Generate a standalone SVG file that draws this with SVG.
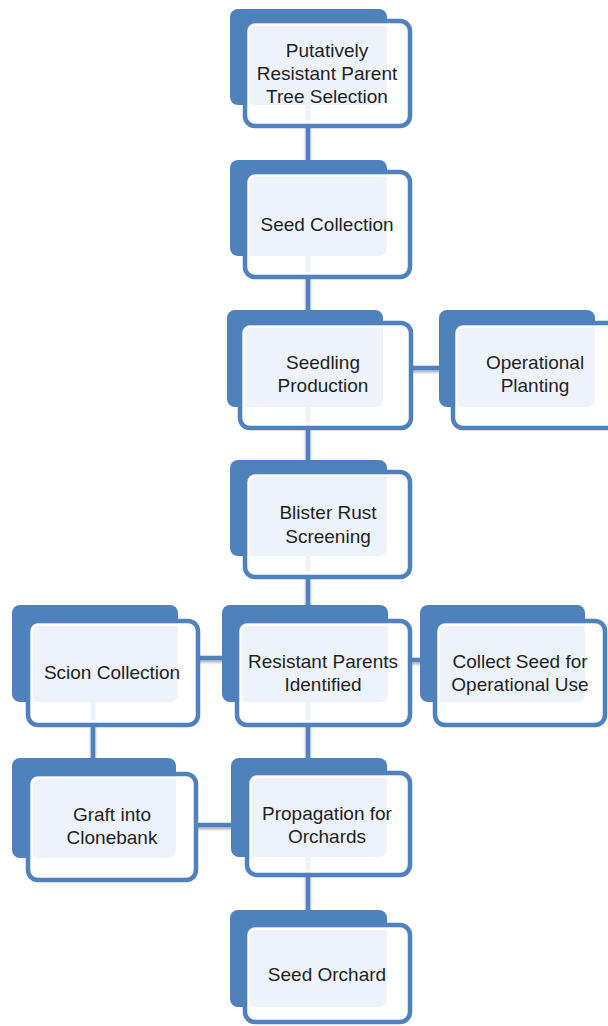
<svg xmlns="http://www.w3.org/2000/svg" width="608" height="1026" viewBox="0 0 608 1026">
<defs>
<filter id="sh" x="-20%" y="-50%" width="140%" height="200%">
<feGaussianBlur in="SourceAlpha" stdDeviation="1.5"/>
<feOffset dx="0" dy="2" result="b"/>
<feComponentTransfer><feFuncA type="linear" slope="0.35"/></feComponentTransfer>
<feMerge><feMergeNode/><feMergeNode in="SourceGraphic"/></feMerge>
</filter>
</defs>
<style>
.back{fill:#4f81bd;}
.front{fill:#ffffff;fill-opacity:0.9;stroke:#4f81bd;stroke-width:4.5;}
.inner{fill:none;stroke:#ffffff;stroke-width:2;stroke-opacity:0.9;}
.c{stroke:#4f81bd;stroke-width:4.5;fill:none;}
text{font-family:"Liberation Sans",Arial,sans-serif;font-size:19px;fill:#1f1f1f;text-anchor:middle;}
</style>
<rect width="608" height="1026" fill="#ffffff"/>
<g id="connectors" filter="url(#sh)">
<line class="c" x1="308" y1="100" x2="308" y2="172"/>
<line class="c" x1="308" y1="250" x2="308" y2="323"/>
<line class="c" x1="308" y1="400" x2="308" y2="472"/>
<line class="c" x1="308" y1="550" x2="308" y2="621"/>
<line class="c" x1="411" y1="368" x2="455" y2="368"/>
<line class="c" x1="198" y1="658" x2="239" y2="658"/>
<line class="c" x1="410" y1="660" x2="437" y2="660"/>
<line class="c" x1="93" y1="700" x2="93" y2="774"/>
<line class="c" x1="308" y1="700" x2="308" y2="773"/>
<line class="c" x1="196" y1="825" x2="249" y2="825"/>
<line class="c" x1="308" y1="850" x2="308" y2="925"/>
</g>
<g id="n1">
<rect class="back" x="230" y="9" width="157" height="96" rx="8"/>
<rect class="front" x="245" y="21" width="165" height="105" rx="10"/>
<rect class="inner" x="249" y="25" width="157" height="97" rx="7"/>
<text x="327" y="57">Putatively</text>
<text x="327" y="80">Resistant Parent</text>
<text x="327" y="103">Tree Selection</text>
</g>
<g id="n2">
<rect class="back" x="230" y="160" width="157" height="96" rx="8"/>
<rect class="front" x="245" y="172" width="165" height="105" rx="10"/>
<rect class="inner" x="249" y="176" width="157" height="97" rx="7"/>
<text x="327" y="231">Seed Collection</text>
</g>
<g id="n3">
<rect class="back" x="227" y="310" width="156" height="97" rx="8"/>
<rect class="front" x="240" y="323" width="171" height="105" rx="10"/>
<rect class="inner" x="244" y="327" width="163" height="97" rx="7"/>
<text x="323" y="369">Seedling</text>
<text x="323" y="392">Production</text>
</g>
<g id="n4">
<rect class="back" x="439" y="310" width="156" height="97" rx="8"/>
<rect class="front" x="453" y="323" width="165" height="105" rx="10"/>
<rect class="inner" x="457" y="327" width="157" height="97" rx="7"/>
<text x="535" y="369">Operational</text>
<text x="535" y="392">Planting</text>
</g>
<g id="n5">
<rect class="back" x="230" y="460" width="157" height="96" rx="8"/>
<rect class="front" x="245" y="472" width="165" height="105" rx="10"/>
<rect class="inner" x="249" y="476" width="157" height="97" rx="7"/>
<text x="328" y="519">Blister Rust</text>
<text x="328" y="543">Screening</text>
</g>
<g id="n6">
<rect class="back" x="12" y="605" width="166" height="97" rx="8"/>
<rect class="front" x="28" y="621" width="170" height="104" rx="10"/>
<rect class="inner" x="32" y="625" width="162" height="96" rx="7"/>
<text x="112" y="679">Scion Collection</text>
</g>
<g id="n7">
<rect class="back" x="222" y="605" width="166" height="97" rx="8"/>
<rect class="front" x="237" y="621" width="173" height="104" rx="10"/>
<rect class="inner" x="241" y="625" width="165" height="96" rx="7"/>
<text x="323" y="668">Resistant Parents</text>
<text x="323" y="691">Identified</text>
</g>
<g id="n8">
<rect class="back" x="420" y="605" width="165" height="97" rx="8"/>
<rect class="front" x="435" y="621" width="170" height="104" rx="10"/>
<rect class="inner" x="439" y="625" width="162" height="96" rx="7"/>
<text x="520" y="668">Collect Seed for</text>
<text x="520" y="691">Operational Use</text>
</g>
<g id="n9">
<rect class="back" x="12" y="758" width="164" height="100" rx="8"/>
<rect class="front" x="28" y="774" width="168" height="106" rx="10"/>
<rect class="inner" x="32" y="778" width="160" height="98" rx="7"/>
<text x="112" y="821">Graft into</text>
<text x="112" y="844">Clonebank</text>
</g>
<g id="n10">
<rect class="back" x="231" y="758" width="156" height="99" rx="8"/>
<rect class="front" x="247" y="773" width="163" height="102" rx="10"/>
<rect class="inner" x="251" y="777" width="155" height="94" rx="7"/>
<text x="327" y="820">Propagation for</text>
<text x="327" y="843">Orchards</text>
</g>
<g id="n11">
<rect class="back" x="230" y="910" width="157" height="97" rx="8"/>
<rect class="front" x="245" y="925" width="165" height="97" rx="10"/>
<rect class="inner" x="249" y="929" width="157" height="89" rx="7"/>
<text x="327" y="981">Seed Orchard</text>
</g>
</svg>
